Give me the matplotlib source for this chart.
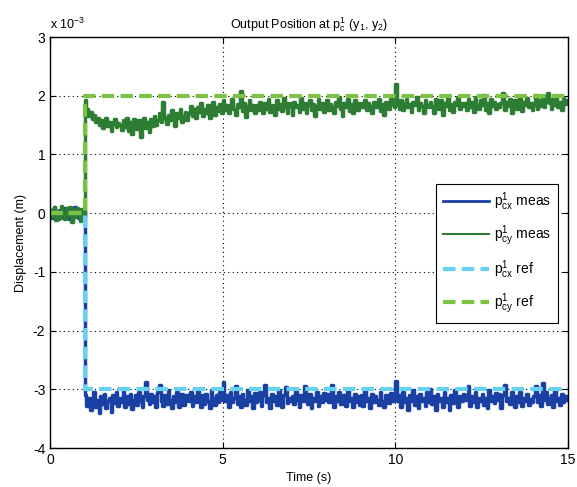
"""
output position plot, measured vs reference
"""
import numpy as np
import matplotlib
matplotlib.use("Agg")
import matplotlib.pyplot as plt

matplotlib.rc('font', family=['Liberation Sans', 'DejaVu Sans'])
matplotlib.rc('axes', unicode_minus=False)
matplotlib.rc('mathtext', fontset='custom', rm='Liberation Sans',
              it='Liberation Sans', bf='Liberation Sans:bold')

# sample times (s), 0.05 s step
t = np.arange(0, 15.02, 0.05)

# measured x displacement (x 1e-3 m), one row per second
x_meas = [
    0.05, -0.08, 0.10, -0.02, -0.10, 0.06, 0.00, -0.07, 0.09, -0.04,
    0.03, -0.10, 0.07, -0.05, 0.10, -0.02, -0.08, 0.04, -0.06, 0.02,
    -3.10, -3.28, -3.15, -3.35, -3.22, -3.05, -3.30, -3.18, -3.40, -3.12,
    -3.25, -3.08, -3.32, -3.20, -3.15, -3.38, -3.10, -3.24, -3.05, -3.28,
    -3.15, -3.22, -3.02, -3.30, -3.12, -3.25, -3.08, -3.33, -3.18, -3.10,
    -3.27, -3.05, -3.20, -3.30, -3.12, -2.88, -3.18, -3.25, -3.08, -3.22,
    -3.12, -3.30, -3.05, -2.92, -3.20, -3.28, -3.10, -3.25, -3.02, -3.18,
    -3.32, -3.12, -3.22, -3.05, -3.30, -3.15, -3.08, -3.26, -3.18, -3.10,
    -3.20, -3.05, -3.28, -3.12, -3.22, -3.00, -3.18, -3.30, -3.10, -3.25,
    -3.08, -3.20, -3.32, -3.02, -3.15, -3.27, -3.10, -3.22, -3.05, -3.18,
    -2.88, -3.20, -3.10, -3.30, -3.05, -3.22, -3.15, -2.95, -3.25, -3.12,
    -3.30, -3.08, -3.18, -3.26, -3.02, -3.20, -3.12, -3.32, -3.06, -3.22,
    -3.18, -3.05, -3.28, -3.10, -2.92, -3.22, -3.15, -3.32, -3.08, -3.20,
    -3.12, -3.26, -3.02, -3.18, -3.30, -3.10, -2.96, -3.24, -3.14, -3.20,
    -3.12, -3.25, -3.02, -3.18, -3.30, -3.10, -3.20, -2.95, -3.15, -3.25,
    -3.08, -3.32, -3.14, -3.20, -3.04, -3.28, -3.12, -3.22, -3.06, -3.18,
    -3.08, -3.22, -3.15, -2.92, -3.30, -3.12, -3.20, -3.05, -3.25, -3.15,
    -3.10, -3.28, -3.02, -3.20, -3.14, -3.30, -3.08, -3.22, -3.12, -3.26,
    -3.10, -3.28, -3.00, -3.20, -3.15, -3.32, -3.08, -3.22, -3.12, -3.18,
    -3.26, -3.04, -3.20, -3.30, -3.10, -3.16, -3.24, -3.06, -3.20, -3.14,
    -2.85, -3.20, -3.10, -3.30, -3.05, -3.22, -3.15, -3.35, -3.10, -3.20,
    -3.02, -3.26, -3.12, -3.32, -3.08, -3.20, -3.15, -3.28, -3.04, -3.22,
    -3.00, -3.25, -3.12, -3.35, -3.08, -3.20, -3.15, -3.30, -3.05, -3.22,
    -3.14, -3.36, -3.10, -3.24, -3.02, -3.18, -3.30, -3.12, -3.20, -3.08,
    -3.10, -3.18, -2.95, -3.28, -3.12, -3.22, -3.05, -3.30, -3.15, -3.20,
    -3.08, -3.26, -3.14, -3.32, -3.02, -3.20, -3.12, -3.24, -3.06, -3.18,
    -3.08, -3.32, -3.10, -2.92, -3.20, -3.15, -3.25, -3.05, -3.18, -3.30,
    -3.12, -3.22, -3.04, -3.28, -3.14, -3.20, -3.08, -3.26, -3.16, -3.22,
    -3.12, -2.95, -3.22, -3.10, -3.28, -2.90, -3.18, -3.05, -3.25, -3.15,
    -3.10, -3.30, -3.02, -3.20, -3.14, -3.26, -3.08, -3.22, -3.12, -3.18,
    -3.12,
]

# measured y displacement (x 1e-3 m), one row per second
y_meas = [
    0.06, -0.05, 0.10, -0.12, 0.04, -0.08, 0.12, 0.00, -0.10, 0.08,
    -0.03, 0.10, -0.15, 0.05, -0.06, 0.09, -0.02, -0.14, 0.07, -0.04,
    1.92, 1.78, 1.65, 1.72, 1.60, 1.68, 1.55, 1.62, 1.50, 1.58,
    1.45, 1.55, 1.62, 1.48, 1.56, 1.40, 1.52, 1.60, 1.46, 1.54,
    1.50, 1.42, 1.58, 1.47, 1.62, 1.40, 1.55, 1.35, 1.60, 1.52,
    1.44, 1.58, 1.30, 1.50, 1.62, 1.45, 1.55, 1.38, 1.60, 1.48,
    1.65, 1.50, 1.58, 1.70, 1.55, 1.90, 1.62, 1.52, 1.68, 1.58,
    1.75, 1.60, 1.48, 1.70, 1.62, 1.78, 1.55, 1.66, 1.72, 1.58,
    1.70, 1.82, 1.65, 1.78, 1.62, 1.80, 1.72, 1.88, 1.66, 1.78,
    1.70, 1.85, 1.62, 1.76, 1.90, 1.68, 1.80, 1.74, 1.86, 1.70,
    1.92, 1.75, 1.85, 1.70, 1.82, 1.95, 1.78, 1.68, 1.86, 1.80,
    2.08, 1.74, 1.88, 1.64, 1.82, 1.92, 1.76, 1.85, 1.70, 1.84,
    1.75, 1.90, 1.82, 1.70, 1.88, 1.78, 1.95, 1.72, 1.85, 1.80,
    1.68, 1.92, 1.78, 1.86, 1.74, 1.96, 1.80, 1.70, 1.88, 1.82,
    1.68, 1.90, 1.80, 1.85, 1.72, 1.96, 1.78, 1.88, 1.70, 1.84,
    1.92, 1.76, 1.86, 1.66, 1.82, 1.94, 1.78, 1.88, 1.72, 1.85,
    1.92, 1.75, 1.86, 1.80, 1.70, 1.90, 1.82, 1.98, 1.78, 1.65,
    1.88, 1.80, 1.94, 1.74, 1.86, 1.70, 1.92, 1.82, 1.76, 1.88,
    1.85, 1.80, 1.92, 1.75, 1.88, 1.82, 1.70, 1.90, 1.85, 1.80,
    1.95, 1.74, 1.86, 1.68, 1.90, 1.82, 1.78, 1.94, 1.86, 1.80,
    2.20, 1.85, 1.78, 1.92, 1.75, 1.88, 1.95, 1.80, 1.86, 1.72,
    1.90, 1.84, 1.98, 1.76, 1.88, 1.82, 1.70, 1.92, 1.85, 1.80,
    1.90, 1.82, 1.70, 1.95, 1.85, 1.78, 1.92, 1.68, 1.88, 1.83,
    1.96, 1.76, 1.86, 1.72, 1.90, 1.84, 1.98, 1.78, 1.88, 1.82,
    1.87, 1.75, 1.95, 1.80, 1.90, 1.72, 1.98, 1.85, 1.78, 1.92,
    1.84, 2.02, 1.76, 1.88, 1.70, 1.94, 1.82, 1.90, 1.78, 1.86,
    1.80, 1.88, 2.05, 1.75, 1.90, 1.82, 1.95, 1.70, 1.88, 1.92,
    1.78, 1.86, 2.00, 1.74, 1.90, 1.84, 1.96, 1.80, 1.88, 1.76,
    1.85, 2.02, 1.78, 1.92, 1.83, 2.00, 1.80, 1.90, 2.05, 1.88,
    1.78, 1.94, 1.84, 2.02, 1.80, 1.90, 1.76, 1.96, 1.86, 1.92,
    1.90,
]

# reference steps (x 1e-3 m)
t_ref = [0, 1, 1, 15]
x_ref = [0, 0, -3, -3]
y_ref = [0, 0, 2, 2]

fig = plt.figure(figsize=(5.77, 4.87), dpi=100)
ax = fig.add_axes([0.087, 0.080, 0.897, 0.844])

ax.plot(t, x_meas, color='#1a40a4', lw=2.5, drawstyle='steps-post',
        label=r'p$_{\rm cx}^{1}$ meas')
ax.plot(t, y_meas, color='#2d7d34', lw=2.5, drawstyle='steps-post',
        label=r'p$_{\rm cy}^{1}$ meas')
ax.plot(t_ref, x_ref, color='#66d2f0', lw=3, ls=(0, (3, 1.5)),
        label=r'p$_{\rm cx}^{1}$ ref')
ax.plot(t_ref, y_ref, color='#7cc243', lw=3, ls=(0, (3, 1.5)),
        label=r'p$_{\rm cy}^{1}$ ref')

ax.set_xlim(0, 15)
ax.set_ylim(-4, 3)
ax.set_xticks([0, 5, 10, 15])
ax.set_yticks([-4, -3, -2, -1, 0, 1, 2, 3])
ax.grid(True, color='black', ls=(0, (1, 3)), lw=0.8)
ax.tick_params(direction='in', top=True, right=True, labelsize=10, length=4)
for s in ax.spines.values():
    s.set_linewidth(1.0)

ax.set_xlabel('Time (s)', fontsize=9)
ax.set_ylabel('Displacement (m)', fontsize=9)
ax.set_title(r'Output Position at p$_{\rm c}^{1}$ (y$_{1}$, y$_{2}$)', fontsize=9)
ax.text(0.0, 1.012, r'x 10$^{-3}$', transform=ax.transAxes, fontsize=9,
        ha='left', va='bottom')

leg = ax.legend(loc='upper right', bbox_to_anchor=(0.995, 0.66),
                fontsize=10, handlelength=3.3, fancybox=False,
                edgecolor='black', framealpha=1, borderpad=0.5,
                labelspacing=0.75, handletextpad=0.4)
leg.get_frame().set_linewidth(0.8)
# legend shows the meas lines thinner than the plotted ones
leg_lines = leg.get_lines()
leg_lines[0].set_linewidth(2.0)
leg_lines[1].set_linewidth(1.5)

fig.savefig('out.png', dpi=100)
